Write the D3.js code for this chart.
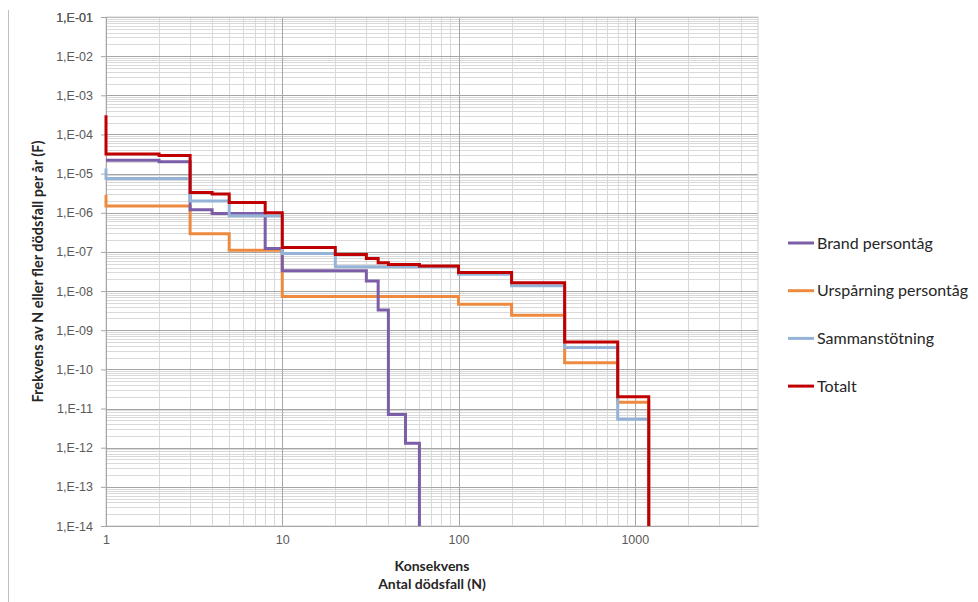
<!DOCTYPE html>
<html>
<head>
<meta charset="utf-8">
<script src="https://cdn.jsdelivr.net/npm/d3@7"></script>
<style>
  body { margin: 0; background: #fff; }
  svg { display: block; font-family: Lato, "Open Sans", sans-serif; }
</style>
</head>
<body>
<svg id="chart" width="978" height="602"></svg>
<script>
// step curves: N breakpoints and F value from that N onwards
const brandN = [1, 2, 3, 4, 8, 10, 30, 35, 40, 50, 60]
const brandF = [2.2e-5, 2.0e-5, 1.2e-6, 9.6e-7, 1.23e-7, 3.3e-8, 1.8e-8, 3.3e-9, 7.0e-12, 1.3e-12, 1e-14]

const urspN = [1, 1, 3, 5, 10, 100, 200, 400, 800, 1200]
const urspF = [2.9e-6, 1.5e-6, 2.9e-7, 1.1e-7, 7.3e-9, 4.6e-9, 2.4e-9, 1.47e-10, 1.45e-11, 1e-14]

const sammN = [1, 1, 3, 5, 10, 20, 100, 200, 400, 800, 1200]
const sammF = [1.36e-5, 7.55e-6, 2.0e-6, 8.4e-7, 9.1e-8, 4.2e-8, 2.7e-8, 1.36e-8, 3.6e-10, 5.3e-12, 1e-14]

const totN = [1, 1, 2, 3, 4, 5, 8, 10, 20, 30, 35, 40, 60, 100, 200, 400, 800, 1200]
const totF = [3.1e-4, 3.15e-5, 2.9e-5, 3.3e-6, 3.0e-6, 1.84e-6, 1.0e-6, 1.3e-7, 8.6e-8, 6.8e-8, 5.3e-8, 4.8e-8, 4.34e-8, 3.0e-8, 1.62e-8, 5.0e-10, 2.0e-11, 1e-14]

const seriesNames = ["Brand persontåg", "Urspårning persontåg", "Sammanstötning", "Totalt"]
const seriesColors = ["#7b5ea7", "#ed8a3f", "#95b3d7", "#c00000"]

const xTicks = [1, 10, 100, 1000]
const yTicks = d3.range(-14, 0).map(e => Math.pow(10, e))

const margin = {left: 106, top: 17, right: 220, bottom: 76}
const width = 978, height = 602
const svg = d3.select("#chart")

const x = d3.scaleLog().domain([1, 5000]).range([margin.left, width - margin.right])
const y = d3.scaleLog().domain([1e-14, 1e-1]).range([height - margin.bottom, margin.top])

// left frame line
svg.append("line")
  .attr("x1", 8.5).attr("x2", 8.5).attr("y1", 10).attr("y2", height)
  .attr("stroke", "#bfbfbf")

// minor grid
const minorX = []
for (let d = 1; d < 5000; d *= 10) for (let k = 2; k <= 9; k++) if (d * k < 5000) minorX.push(d * k)
const minorY = []
for (let e = -14; e < -1; e++) for (let k = 2; k <= 9; k++) minorY.push(k * Math.pow(10, e))

const grid = svg.append("g")
grid.selectAll(".mx").data(minorX).join("line")
  .attr("x1", d => Math.round(x(d)) + 0.5).attr("x2", d => Math.round(x(d)) + 0.5)
  .attr("y1", y(1e-1)).attr("y2", y(1e-14))
  .attr("stroke", "#d9d9d9")
grid.selectAll(".my").data(minorY).join("line")
  .attr("y1", d => Math.round(y(d)) + 0.5).attr("y2", d => Math.round(y(d)) + 0.5)
  .attr("x1", x(1)).attr("x2", x(5000))
  .attr("stroke", "#d9d9d9")

// major grid
grid.selectAll(".Mx").data(xTicks).join("line")
  .attr("x1", d => Math.round(x(d)) + 0.5).attr("x2", d => Math.round(x(d)) + 0.5)
  .attr("y1", y(1e-1)).attr("y2", y(1e-14))
  .attr("stroke", "#a6a6a6")
grid.selectAll(".My").data(yTicks.concat([1e-1])).join("line")
  .attr("y1", d => Math.round(y(d)) + 0.5).attr("y2", d => Math.round(y(d)) + 0.5)
  .attr("x1", x(1)).attr("x2", x(5000))
  .attr("stroke", "#a6a6a6")

// plot border
svg.append("rect")
  .attr("x", x(1)).attr("y", y(1e-1))
  .attr("width", x(5000) - x(1)).attr("height", y(1e-14) - y(1e-1))
  .attr("fill", "none").attr("stroke", "#cfcfcf")

// axes
const yAxis = d3.axisLeft(y)
  .tickValues(yTicks.concat([1e-1]))
  .tickSize(5)
  .tickFormat(d => "1,E-" + String(Math.round(-Math.log10(d))).padStart(2, "0"))
const gy = svg.append("g").attr("transform", `translate(${x(1)},0)`).call(yAxis)
gy.select(".domain").attr("stroke", "#a6a6a6")
gy.selectAll(".tick line").attr("stroke", "#a6a6a6")
gy.selectAll(".tick text").attr("fill", "#595959").attr("font-size", 12.5).attr("x", -13)

const xAxis = d3.axisBottom(x).tickValues(xTicks).tickSize(0).tickFormat(d3.format("d"))
const gx = svg.append("g").attr("transform", `translate(0,${y(1e-14)})`).call(xAxis)
gx.select(".domain").attr("stroke", "#a6a6a6")
gx.selectAll(".tick text").attr("fill", "#595959").attr("font-size", 12.5).attr("dy", "1.2em")

// series
const line = d3.line().x(d => x(d[0])).y(d => y(d[1])).curve(d3.curveStepAfter)
const seriesData = [
  d3.zip(brandN, brandF),
  d3.zip(urspN, urspF),
  d3.zip(sammN, sammF),
  d3.zip(totN, totF)
]
const drawOrder = [1, 0, 2, 3]
svg.append("g").selectAll("path").data(drawOrder).join("path")
  .attr("d", i => line(seriesData[i]))
  .attr("fill", "none")
  .attr("stroke", i => seriesColors[i])
  .attr("stroke-width", 3)

// axis titles
svg.append("text")
  .attr("transform", `translate(43,${(y(1e-1) + y(1e-14)) / 2}) rotate(-90)`)
  .attr("text-anchor", "middle")
  .attr("font-size", 14.5).attr("font-weight", "bold").attr("fill", "#262626")
  .text("Frekvens av N eller fler dödsfall per år (F)")
svg.append("text")
  .attr("x", 432).attr("y", 571)
  .attr("text-anchor", "middle")
  .attr("font-size", 14).attr("font-weight", "bold").attr("fill", "#262626")
  .text("Konsekvens")
svg.append("text")
  .attr("x", 432).attr("y", 589)
  .attr("text-anchor", "middle")
  .attr("font-size", 14).attr("font-weight", "bold").attr("fill", "#262626")
  .text("Antal dödsfall (N)")

// legend
const legend = svg.append("g").selectAll("g").data(seriesNames).join("g")
  .attr("transform", (d, i) => `translate(788,${243 + i * 47.7})`)
legend.append("line")
  .attr("x1", 0).attr("x2", 26)
  .attr("stroke", (d, i) => seriesColors[i]).attr("stroke-width", 3)
legend.append("text")
  .attr("x", 29).attr("dy", "0.35em")
  .attr("font-size", 16).attr("fill", "#262626")
  .text(d => d)
</script>
</body>
</html>
